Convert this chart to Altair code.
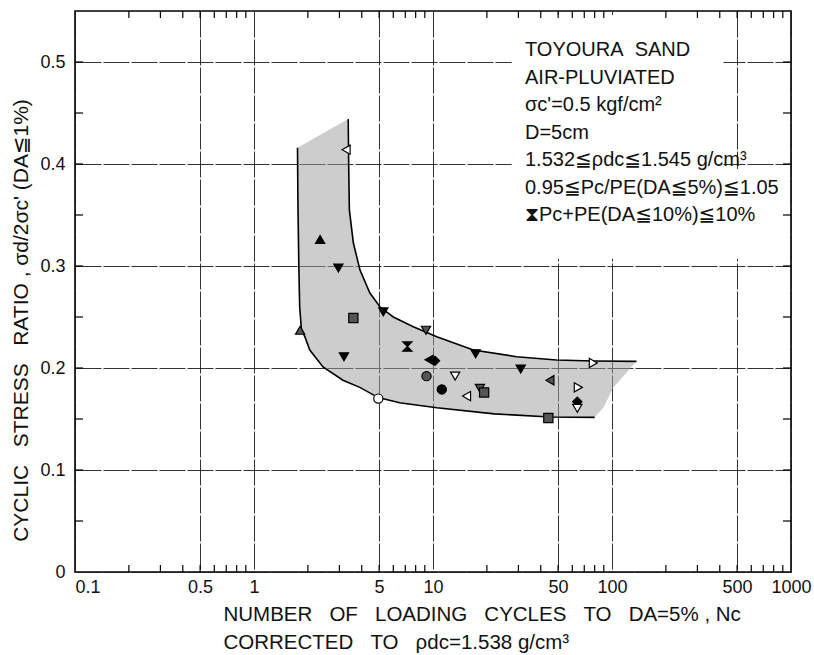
import altair as alt
import pandas as pd

# ---- test results: corrected number of cycles to DA=5% vs cyclic stress ratio ----
cycles = [3.27, 2.34, 2.96, 3.59, 1.81, 3.18, 5.28, 9.14, 7.19, 9.5, 10.26, 17.3, 30.9,
          78.6, 9.2, 13.3, 11.2, 15.4, 18.3, 19.3, 45.0, 64.8, 64.0, 64.0, 44.1, 4.95]
stress_ratio = [0.414, 0.326, 0.298, 0.249, 0.237, 0.211, 0.255, 0.237, 0.221, 0.208, 0.207,
                0.214, 0.199, 0.205, 0.192, 0.192, 0.179, 0.1725, 0.180, 0.176, 0.188,
                0.181, 0.167, 0.1605, 0.151, 0.170]
symbol = ["left", "up", "down", "square", "up", "down", "down", "down", "hourglass", "left",
          "diamond", "down", "down", "right", "circle", "down", "circle", "left", "down",
          "square", "left", "right", "diamond", "down", "square", "circle"]
fill_style = ["open", "solid", "solid", "half", "half", "solid", "solid", "half", "solid",
              "solid", "solid", "solid", "solid", "open", "half", "open", "solid", "open",
              "half", "half", "half", "open", "solid", "open", "half", "open"]

# ---- boundaries of the scatter band ----
lower_n = [1.75, 1.76, 1.78, 1.80, 1.84, 1.93, 2.05, 2.43, 3.14, 3.9, 4.95, 6.5, 10.5, 22, 45, 80]
lower_sr = [0.416, 0.36, 0.30, 0.26, 0.238, 0.23, 0.2176, 0.201, 0.188, 0.181, 0.171, 0.166,
            0.161, 0.155, 0.152, 0.1516]
edge_n = [80, 89.5, 101.6, 120, 137]
edge_sr = [0.1516, 0.161, 0.1807, 0.195, 0.2065]
upper_n = [3.36, 3.38, 3.41, 3.59, 3.91, 4.44, 5.05, 6.0, 7.76, 10.5, 16.8, 29.3, 49, 78.6, 137]
upper_sr = [0.444, 0.40, 0.355, 0.3225, 0.296, 0.2735, 0.26, 0.25, 0.2405, 0.2307, 0.2176,
            0.2111, 0.2078, 0.2069, 0.2065]

# ---- axes ----
x_major = [0.1, 0.5, 1, 5, 10, 50, 100, 500, 1000]
x_minor = [0.2, 0.3, 0.4, 0.5, 0.6, 0.7, 0.8, 0.9, 2, 3, 4, 5, 6, 7, 8, 9,
           20, 30, 40, 50, 60, 70, 80, 90, 200, 300, 400, 500, 600, 700, 800, 900]
y_major = [0, 0.1, 0.2, 0.3, 0.4, 0.5]
y_minor = [0.05, 0.1, 0.15, 0.2, 0.25, 0.3, 0.35, 0.4, 0.45, 0.5]

# blank area kept free of grid lines behind the test-condition notes
note_n1 = [27.5, 420]
note_n2 = [420, 600]
note_sr1 = [0.307, 0.307]
note_sr2 = [0.546, 0.395]

SP = "\u00a0"  # non-collapsing space for the wide word gaps
GAP = SP * 3

notes = [
    f"TOYOURA{SP*2}SAND",
    "AIR-PLUVIATED",
    "σc'=0.5 kgf/cm²",
    "D=5cm",
    "1.532≦ρdc≦1.545 g/cm³",
    "0.95≦Pc/PE(DA≦5%)≦1.05",
    "⧗Pc+PE(DA≦10%)≦10%",
]
x_title = [
    GAP.join(["NUMBER", "OF", "LOADING", "CYCLES", "TO", f"DA=5%{SP},{SP}Nc"]),
    GAP.join(["CORRECTED", "TO", f"ρdc=1.538{SP}g/cm³"]),
]
y_title = GAP.join(["CYCLIC", "STRESS", f"RATIO{SP},{SP}σd/2σc'{SP}(DA≦1%)"])

FONT = "Liberation Sans, DejaVu Sans"
W, H = 716, 561

points = pd.DataFrame({"n": cycles, "sr": stress_ratio, "symbol": symbol, "style": fill_style})
outline = pd.DataFrame({
    "n": lower_n + edge_n[1:-1] + upper_n[::-1],
    "sr": lower_sr + edge_sr[1:-1] + upper_sr[::-1],
})
outline["k"] = range(len(outline))
lower = pd.DataFrame({"n": lower_n, "sr": lower_sr})
upper = pd.DataFrame({"n": upper_n, "sr": upper_sr})
xticks = pd.DataFrame({"n": x_minor})
yticks = pd.DataFrame({"sr": y_minor})
blank = pd.DataFrame({"n": note_n1, "n2": note_n2, "sr": note_sr1, "sr2": note_sr2})

xscale = alt.Scale(type="log", domain=[0.1, 1000], nice=False)
yscale = alt.Scale(domain=[0, 0.55], nice=False, zero=False)

grid_style = dict(grid=True, gridColor="#1c1c1c", gridWidth=0.9, gridDash=[26, 2],
                  ticks=False, domain=False)

xaxis = alt.Axis(
    values=x_major, format="~g", **grid_style,
    labelFont=FONT, labelFontSize=18, labelColor="#111", labelPadding=6,
    labelAlign=alt.ExprRef(expr="datum.value < 0.2 ? 'left' : 'center'"),
    title=x_title,
    titleFont=FONT, titleFontSize=20.5, titleFontWeight="normal", titleColor="#111",
    titleX=148, titleY=48, titleAlign="left", titleBaseline="alphabetic",
    titleLineHeight=28,
)
yaxis = alt.Axis(
    values=y_major, format="~g", **grid_style,
    labelFont=FONT, labelFontSize=18, labelColor="#111", labelPadding=10,
    title=y_title,
    titleFont=FONT, titleFontSize=21, titleFontWeight="normal", titleColor="#111",
    titleX=-54, titleY=309, titleAngle=270, titleAlign="center", titleBaseline="middle",
)

X = alt.X("n:Q", scale=xscale, axis=xaxis)
Y = alt.Y("sr:Q", scale=yscale, axis=yaxis)

band = alt.Chart(outline).mark_line(
    fill="#a0a0a0", fillOpacity=0.52, strokeOpacity=0
).encode(x=X, y=Y, order="k:Q")

blank_box = alt.Chart(blank).mark_rect(color="white").encode(
    x=X, x2="n2:Q", y=Y, y2="sr2:Q"
)

lower_line = alt.Chart(lower).mark_line(color="black", strokeWidth=1.6).encode(x=X, y=Y)
upper_line = alt.Chart(upper).mark_line(color="black", strokeWidth=1.6).encode(x=X, y=Y)

tick_style = dict(color="black", strokeWidth=1.2)
top_ticks = alt.Chart(xticks).mark_rule(**tick_style).encode(
    x=X, y=alt.value(0), y2=alt.value(7))
bottom_ticks = alt.Chart(xticks).mark_rule(**tick_style).encode(
    x=X, y=alt.value(H), y2=alt.value(H - 7))
left_ticks = alt.Chart(yticks).mark_rule(**tick_style).encode(
    y=Y, x=alt.value(0), x2=alt.value(8))
right_ticks = alt.Chart(yticks).mark_rule(**tick_style).encode(
    y=Y, x=alt.value(W - 8), x2=alt.value(W))

marker = alt.Chart(points).mark_point(
    filled=True, size=85, stroke="black", strokeWidth=1.2, opacity=1
).encode(
    x=X, y=Y,
    shape=alt.Shape("symbol:N", legend=None, scale=alt.Scale(
        domain=["left", "right", "up", "down", "square", "circle", "diamond", "hourglass"],
        range=["triangle-left", "triangle-right", "triangle-up", "triangle-down",
               "square", "circle", "diamond", "M-1,-1L1,-1L-1,1L1,1Z"])),
    fill=alt.Fill("style:N", legend=None, scale=alt.Scale(
        domain=["open", "solid", "half"], range=["white", "black", "#555555"])),
)

note_text = alt.Chart(pd.DataFrame({"k": [0]})).mark_text(
    text=notes, align="left", baseline="alphabetic", font=FONT, fontSize=20,
    lineHeight=27.5, color="#111",
).encode(x=alt.value(450), y=alt.value(45))

chart = alt.layer(
    band, blank_box, lower_line, upper_line,
    top_ticks, bottom_ticks, left_ticks, right_ticks,
    marker, note_text,
).properties(
    width=W, height=H,
    autosize=alt.AutoSizeParams(type="none"),
    padding={"left": 75, "top": 11, "right": 23, "bottom": 83},
    background="white",
).configure_view(stroke="black", strokeWidth=1.6)

chart.save("out.html", embed_options={"renderer": "svg", "actions": False})
